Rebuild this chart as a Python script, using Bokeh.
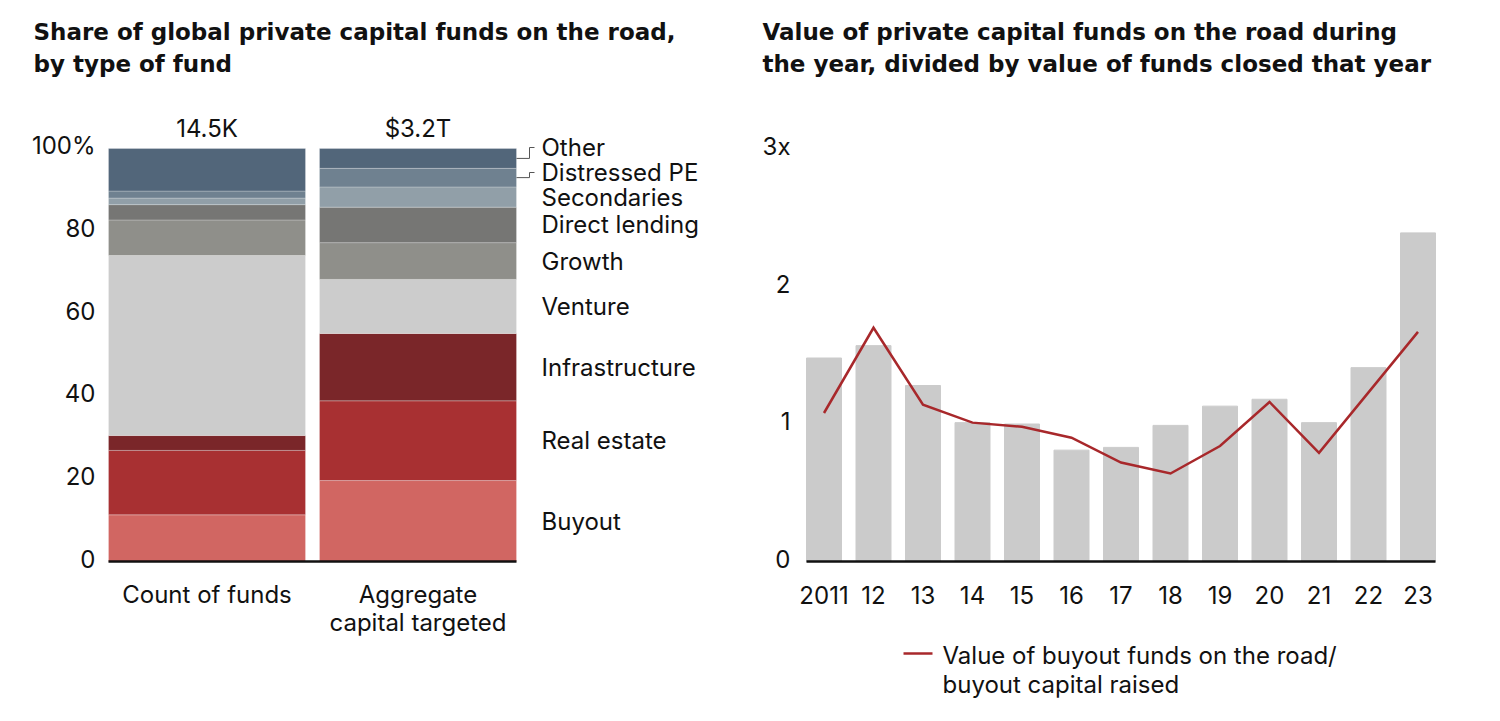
from bokeh.plotting import figure
from bokeh.models import ColumnDataSource, Range1d
from bokeh.layouts import row
from bokeh.embed import file_html
from bokeh.resources import INLINE
from bokeh.core.properties import value

# ---------------- data ----------------
fund_types = ["Buyout", "Real estate", "Infrastructure", "Venture", "Growth",
              "Direct lending", "Secondaries", "Distressed PE", "Other"]
fund_colors = ["#d16662", "#a83032", "#7a2629", "#cccccc", "#8f8f8a",
               "#767674", "#919fa8", "#6f8190", "#52667a"]
count_share = [11.3, 15.6, 3.6, 43.6, 8.6, 3.7, 1.6, 1.7, 10.3]
capital_share = [19.6, 19.3, 16.3, 13.1, 8.9, 8.6, 4.9, 4.5, 4.8]
bar_names = ["Count of funds", "Aggregate\ncapital targeted"]
bar_totals = ["14.5K", "$3.2T"]
left_ticks = [0, 20, 40, 60, 80, 100]
left_tick_labels = ["0", "20", "40", "60", "80", "100%"]
left_title = ["Share of global private capital funds on the road,", "by type of fund"]

years = ["2011", "12", "13", "14", "15", "16", "17", "18", "19", "20", "21", "22", "23"]
road_to_closed = [1.48, 1.57, 1.28, 1.01, 1.00, 0.81, 0.83, 0.99, 1.13, 1.18, 1.01, 1.41, 2.39]
buyout_ratio = [1.08, 1.70, 1.14, 1.01, 0.98, 0.90, 0.72, 0.64, 0.84, 1.16, 0.79, 1.23, 1.67]
right_ticks = [0, 1, 2, 3]
right_tick_labels = ["0", "1", "2", "3x"]
right_title = ["Value of private capital funds on the road during",
               "the year, divided by value of funds closed that year"]
line_legend = ["Value of buyout funds on the road/", "buyout capital raised"]

# ---------------- style ----------------
TXT = "#111111"
BODY = value("Inter")
TITLE = value("DejaVu Sans")
FS = "24px"
TFS = "23px"
H = 705
BASE_Y = 561          # page px of zero line
PAGE_TOP = 0


def make_fig(width, x0, x_per, y_per):
    ybot = -(PAGE_TOP + H - BASE_Y) / y_per
    p = figure(width=width, height=H,
               x_range=Range1d(x0, x0 + width / x_per),
               y_range=Range1d(ybot, ybot + H / y_per),
               output_backend="svg", toolbar_location=None,
               x_axis_location=None, y_axis_location=None,
               min_border_left=0, min_border_right=0,
               min_border_top=0, min_border_bottom=0)
    p.grid.visible = False
    p.outline_line_color = None
    p.background_fill_color = "white"
    p.border_fill_color = "white"
    return p


# ================= LEFT =================
LW = 730
L_LEFT = 0
lx_per = 211.0
ly_per = 4.13
lx0 = -(206.5 - L_LEFT) / lx_per
left = make_fig(LW, lx0, lx_per, ly_per)


def LX(px):
    return lx0 + (px - L_LEFT) / lx_per


def LY(py):
    return (BASE_Y - py) / ly_per


bw = 197 / lx_per
src = {"x": [0, 1]}
for t, c, a in zip(fund_types, count_share, capital_share):
    src[t] = [c, a]
left.vbar_stack(fund_types, x="x", width=bw, color=fund_colors,
                source=ColumnDataSource(src), line_color="white",
                line_alpha=0.35, line_width=0.7)
left.segment(x0=[-bw / 2], x1=[1 + bw / 2], y0=[0], y1=[0],
             line_color="#111111", line_width=2.5)

# titles
for i, t in enumerate(left_title):
    left.text(x=[LX(33)], y=[LY(31.5 + 32 * i)], text=[t], text_font=TITLE,
              text_font_style="bold", text_font_size=TFS, text_color=TXT,
              text_align="left", text_baseline="middle")

# y tick labels
left.text(x=[LX(95)] * len(left_ticks), y=[v + 3 / ly_per for v in left_ticks],
          text=left_tick_labels, text_font=BODY, text_font_size=FS, text_color=TXT,
          text_align="right", text_baseline="middle")

# totals above bars
left.text(x=[0, 1], y=[100 + 20 / ly_per] * 2, text=bar_totals, text_font=BODY,
          text_font_size=FS, text_color=TXT, text_align="center", text_baseline="middle")

# category labels below
for i, name in enumerate(bar_names):
    for k, ln in enumerate(name.split("\n")):
        left.text(x=[i], y=[LY(594 + 28 * k)], text=[ln], text_font=BODY,
                  text_font_size=FS, text_color=TXT, text_align="center",
                  text_baseline="middle")

# segment labels beside second bar
cum = 0
mids = []
for v in capital_share:
    mids.append(cum + v / 2)
    cum += v
label_y = list(mids)
# nudge the two thin top segments with leader lines
label_y[fund_types.index("Other")] = LY(147)
label_y[fund_types.index("Distressed PE")] = LY(172)
left.text(x=[LX(541)] * len(fund_types), y=label_y, text=fund_types, text_font=BODY,
          text_font_size=FS, text_color=TXT, text_align="left", text_baseline="middle")

xs, ys = [], []
for name in ["Other", "Distressed PE"]:
    j = fund_types.index(name)
    ym = mids[j]
    yl = label_y[j]
    xs.append([1 + bw / 2, LX(529), LX(529), LX(534)])
    ys.append([ym, ym, yl, yl])
left.multi_line(xs=xs, ys=ys, line_color="#555555", line_width=1)

# ================= RIGHT =================
RW = 754
R_LEFT = L_LEFT + LW
rx_per = 49.5
ry_per = 137.5
rx0 = -(823.5 - R_LEFT) / rx_per
right = make_fig(RW, rx0, rx_per, ry_per)


def RX(px):
    return rx0 + (px - R_LEFT) / rx_per


def RY(py):
    return (BASE_Y - py) / ry_per


idx = list(range(len(years)))
rbw = 35 / rx_per
right.vbar(x=idx, top=road_to_closed, width=rbw, color="#cbcbcb")
right.segment(x0=[-rbw / 2], x1=[idx[-1] + rbw / 2], y0=[0], y1=[0],
              line_color="#111111", line_width=2.5)
right.line(x=idx, y=buyout_ratio, line_color="#a8282b", line_width=2.5,
           line_join="miter")

for i, t in enumerate(right_title):
    right.text(x=[RX(762)], y=[RY(31.5 + 32 * i)], text=[t], text_font=TITLE,
               text_font_style="bold", text_font_size=TFS, text_color=TXT,
               text_align="left", text_baseline="middle")

right.text(x=[RX(790)] * len(right_ticks), y=[v + 3 / ry_per for v in right_ticks],
           text=right_tick_labels, text_font=BODY, text_font_size=FS, text_color=TXT,
           text_align="right", text_baseline="middle")

right.text(x=idx, y=[RY(594)] * len(idx), text=years, text_font=BODY,
           text_font_size=FS, text_color=TXT, text_align="center", text_baseline="middle")

# legend
right.segment(x0=[RX(903)], x1=[RX(932)], y0=[RY(653)], y1=[RY(653)],
              line_color="#a8282b", line_width=2.5)
for k, ln in enumerate(line_legend):
    right.text(x=[RX(942)], y=[RY(655 + 29 * k)], text=[ln], text_font=BODY,
               text_font_size=FS, text_color=TXT, text_align="left", text_baseline="middle")

layout = row(left, right)
open("out.html", "w").write(file_html(layout, INLINE))
